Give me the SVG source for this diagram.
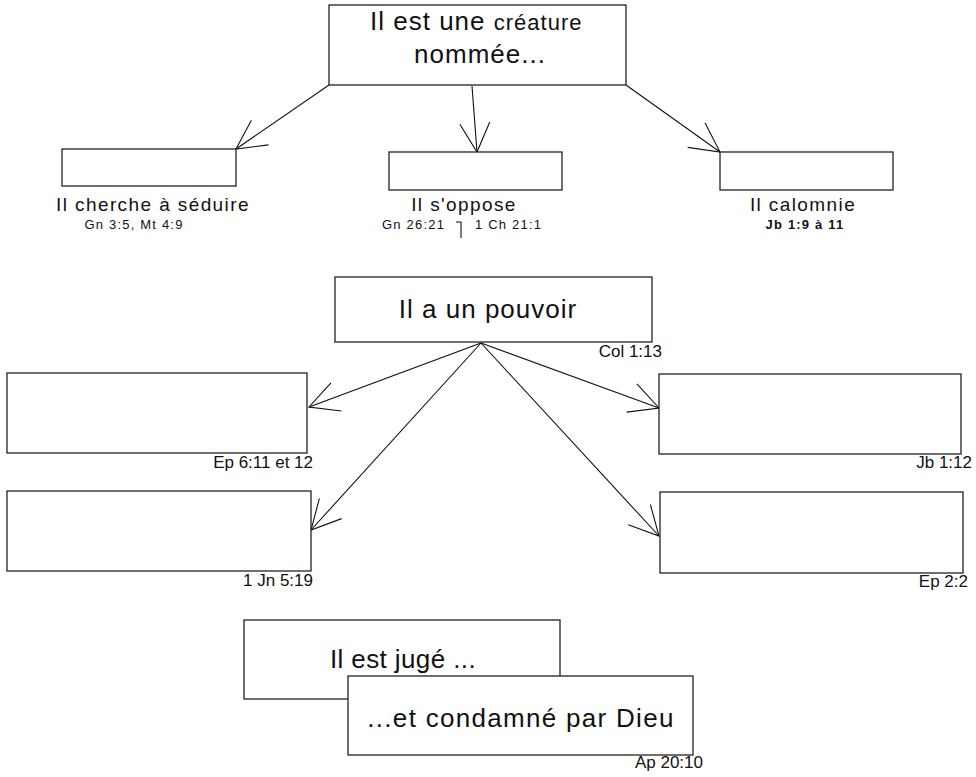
<svg xmlns="http://www.w3.org/2000/svg" width="976" height="777" viewBox="0 0 976 777">
<style>
.box{fill:#fff;stroke:#222;stroke-width:1.3}
.t{font-family:"Liberation Sans",Arial,sans-serif;fill:#111}
.big{font-size:26px;letter-spacing:1px}
.mid{font-size:19px;letter-spacing:1.4px}
.sm{font-size:13px;letter-spacing:1.2px}
.ref{font-size:17px}
.con{stroke:#111;stroke-width:1.1;fill:none}
</style>
<defs>
<marker id="arr" markerUnits="userSpaceOnUse" viewBox="0 -20 40 40" markerWidth="40" markerHeight="40" refX="30" refY="0" orient="auto">
<path d="M1,-15 L30,0 L1,15" fill="none" stroke="#111" stroke-width="1.1"/>
</marker>
</defs>
<rect width="976" height="777" fill="#fff"/>
<g id="connectors">
<line class="con" x1="329" y1="85" x2="236" y2="149" marker-end="url(#arr)"/>
<line class="con" x1="472" y1="86" x2="477" y2="152" stroke-width="1.8" marker-end="url(#arr)"/>
<line class="con" x1="626" y1="85" x2="720" y2="152" marker-end="url(#arr)"/>
<line class="con" x1="481" y1="343" x2="309" y2="407" marker-end="url(#arr)"/>
<line class="con" x1="481" y1="343" x2="311" y2="530" marker-end="url(#arr)"/>
<line class="con" x1="481" y1="343" x2="659" y2="408" marker-end="url(#arr)"/>
<line class="con" x1="481" y1="343" x2="659" y2="536" marker-end="url(#arr)"/>
</g>
<g id="n-creature">
<rect class="box" x="329" y="5" width="297" height="80"/>
<text class="t big" x="370" y="30">Il est une <tspan font-size="22">créature</tspan></text>
<text class="t big" x="480" y="63" text-anchor="middle">nommée...</text>
</g>
<g id="n-seduire">
<rect class="box" x="62" y="149" width="174" height="37"/>
<text class="t mid" x="153" y="211" text-anchor="middle">Il cherche à séduire</text>
<text class="t sm" x="134" y="229" text-anchor="middle">Gn 3:5, Mt 4:9</text>
</g>
<g id="n-oppose">
<rect class="box" x="389" y="152" width="173" height="38"/>
<text class="t mid" x="464" y="211" text-anchor="middle">Il s'oppose</text>
<text class="t sm" x="382" y="229">Gn 26:21</text>
<polyline class="con" points="456,222 461,222 461,238"/>
<text class="t sm" x="475" y="229">1 Ch 21:1</text>
</g>
<g id="n-calomnie">
<rect class="box" x="720" y="152" width="173" height="38"/>
<text class="t mid" x="803" y="211" text-anchor="middle">Il calomnie</text>
<text class="t sm" x="805" y="229" text-anchor="middle" font-weight="bold">Jb 1:9 à 11</text>
</g>
<g id="n-pouvoir">
<rect class="box" x="335" y="277" width="317" height="65"/>
<text class="t big" x="488" y="318" text-anchor="middle">Il a un pouvoir</text>
<text class="t ref" x="662" y="357" text-anchor="end">Col 1:13</text>
</g>
<g id="n-ep6">
<rect class="box" x="7" y="373" width="300" height="80"/>
<text class="t ref" x="313" y="468" text-anchor="end">Ep 6:11 et 12</text>
</g>
<g id="n-1jn">
<rect class="box" x="7" y="491" width="304" height="80"/>
<text class="t ref" x="313" y="586" text-anchor="end">1 Jn 5:19</text>
</g>
<g id="n-jb">
<rect class="box" x="659" y="374" width="302" height="80"/>
<text class="t ref" x="972" y="468" text-anchor="end">Jb 1:12</text>
</g>
<g id="n-ep2">
<rect class="box" x="660" y="492" width="303" height="81"/>
<text class="t ref" x="968" y="587" text-anchor="end">Ep 2:2</text>
</g>
<g id="n-juge">
<rect class="box" x="244" y="620" width="316" height="79"/>
<text class="t big" x="403" y="668" text-anchor="middle" style="letter-spacing:0.4px">Il est jugé ...</text>
</g>
<g id="n-condamne">
<rect class="box" x="348" y="676" width="345" height="79"/>
<text class="t big" x="521" y="727" text-anchor="middle" style="letter-spacing:1.3px">...et condamné par Dieu</text>
<text class="t ref" x="703" y="768" text-anchor="end">Ap 20:10</text>
</g>
</svg>
